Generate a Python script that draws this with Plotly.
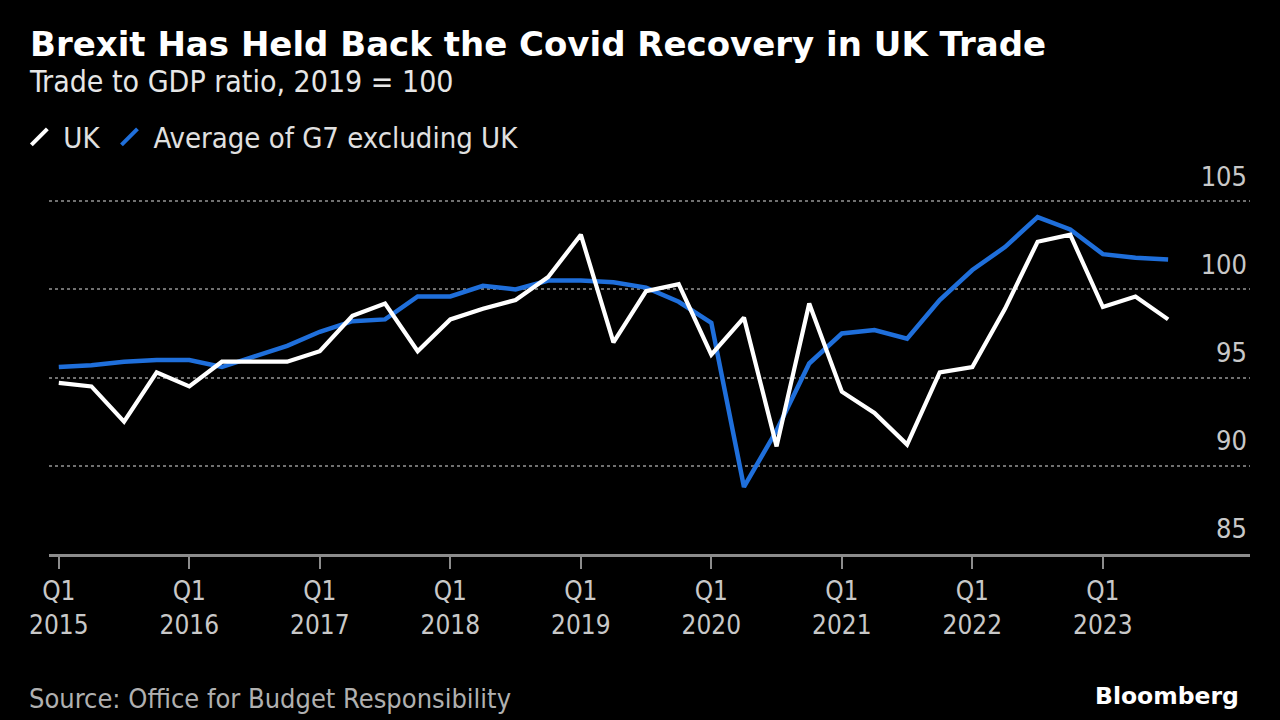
import plotly.graph_objects as go

# ---- data ----
years = list(range(2015, 2024))
quarters = [f"{y} Q{q}" for y in years for q in range(1, 5)][:35]   # Q1 2015 .. Q3 2023

uk = [94.7, 94.5, 92.5, 95.3, 94.5, 95.9, 95.9, 95.9, 96.5, 98.5, 99.2, 96.5,
      98.3, 98.9, 99.4, 100.7, 103.1, 97.0, 99.9, 100.3,
      96.3, 98.4, 91.1, 99.2,
      94.2, 93.0, 91.2, 95.3,
      95.6, 98.9, 102.7, 103.1,
      99.0, 99.6, 98.3]

g7 = [95.6, 95.7, 95.9, 96.0, 96.0, 95.6, 96.2, 96.8, 97.6, 98.2, 98.3, 99.6,
      99.6, 100.2, 100.0, 100.5, 100.5, 100.4, 100.1, 99.3,
      98.1, 88.8, 92.0, 95.8,
      97.5, 97.7, 97.2, 99.4,
      101.1, 102.4, 104.1, 103.4,
      102.0, 101.8, 101.7]

series_names = ["UK", "Average of G7 excluding UK"]
y_ticks = [85, 90, 95, 100, 105]
x_tick_vals = [q for q in quarters if q.endswith("Q1")]
x_tick_text = [f"Q1<br>{q[:4]}" for q in x_tick_vals]

title = "Brexit Has Held Back the Covid Recovery in UK Trade"
subtitle = "Trade to GDP ratio, 2019 = 100"
source = "Source: Office for Budget Responsibility"

# ---- styling / geometry ----
WHITE = "#ffffff"
BLUE = "#1f6fdb"
FONT = "DejaVu Sans Condensed, Liberation Sans Narrow, Liberation Sans, sans-serif"
W, H = 1280, 720
ML, MR, MT, MB = 49, 30, 150, 166
PW, PH = W - ML - MR, H - MT - MB
PX_PER_UNIT = 17.64


def px(x):
    return (x - ML) / PW


def py(y):
    return (H - MB - y) / PH


fig = go.Figure()
fig.add_trace(go.Scatter(x=quarters, y=g7, mode="lines", line=dict(color=BLUE, width=4.5),
                         showlegend=False, name=series_names[1]))
fig.add_trace(go.Scatter(x=quarters, y=uk, mode="lines", line=dict(color=WHITE, width=4.2),
                         showlegend=False, name=series_names[0]))
# legend entries (slash glyphs)
for name, col in zip(series_names, [WHITE, BLUE]):
    fig.add_trace(go.Scatter(x=[None], y=[None], mode="markers", name=name,
                             marker=dict(symbol="line-ne", size=17, line=dict(color=col, width=4))))

fig.update_layout(
    width=W, height=H,
    paper_bgcolor="#000000", plot_bgcolor="#000000",
    margin=dict(l=ML, r=MR, t=MT, b=MB, autoexpand=False),
    font=dict(family=FONT, color="#c8c8c8", size=26),
    legend=dict(orientation="h", xref="container", yref="container",
                x=0.012, y=1 - 137 / 720, xanchor="left", yanchor="middle",
                font=dict(size=29, color="#e0e0e0", family=FONT),
                itemwidth=38, tracegroupgap=0, bgcolor="rgba(0,0,0,0)"),
    xaxis=dict(type="category", categoryorder="array", categoryarray=quarters,
               range=[-0.3, 36.51], tickmode="array", tickvals=x_tick_vals, ticktext=x_tick_text,
               ticks="outside", ticklen=12, tickwidth=2, tickcolor="#8c8c8c",
               showline=True, linecolor="#8c8c8c", linewidth=3, showgrid=False,
               tickfont=dict(size=26, color="#c8c8c8"), zeroline=False, automargin=False),
    yaxis=dict(range=[85, 85 + PH / PX_PER_UNIT], side="right", tickmode="array", tickvals=y_ticks,
               ticklabelposition="inside", ticklabelshift=-25, ticks="",
               showgrid=True, gridcolor="#707070", griddash="dot", gridwidth=2,
               zeroline=False, showline=False, automargin=False,
               tickfont=dict(size=27, color="#c8c8c8")),
    annotations=[
        dict(text=f"<b>{title}</b>", xref="paper", yref="paper", x=px(28), y=py(44),
             xanchor="left", yanchor="middle", showarrow=False,
             font=dict(size=34, color="#ffffff", family="DejaVu Sans, sans-serif")),
        dict(text=subtitle, xref="paper", yref="paper", x=px(27), y=py(81),
             xanchor="left", yanchor="middle", showarrow=False,
             font=dict(size=30, color="#e6e6e6")),
        dict(text=source, xref="paper", yref="paper", x=px(27), y=py(698),
             xanchor="left", yanchor="middle", showarrow=False,
             font=dict(size=27, color="#b0b0b0")),
        dict(text="<b>Bloomberg</b>", xref="paper", yref="paper", x=px(1241), y=py(696),
             xanchor="right", yanchor="middle", showarrow=False,
             font=dict(size=23.5, color="#ffffff", family="DejaVu Sans, sans-serif")),
    ],
)

fig.write_html("out.html", config={"displayModeBar": False},
               post_script="document.body.style.margin='0';document.body.style.background='#000';")
